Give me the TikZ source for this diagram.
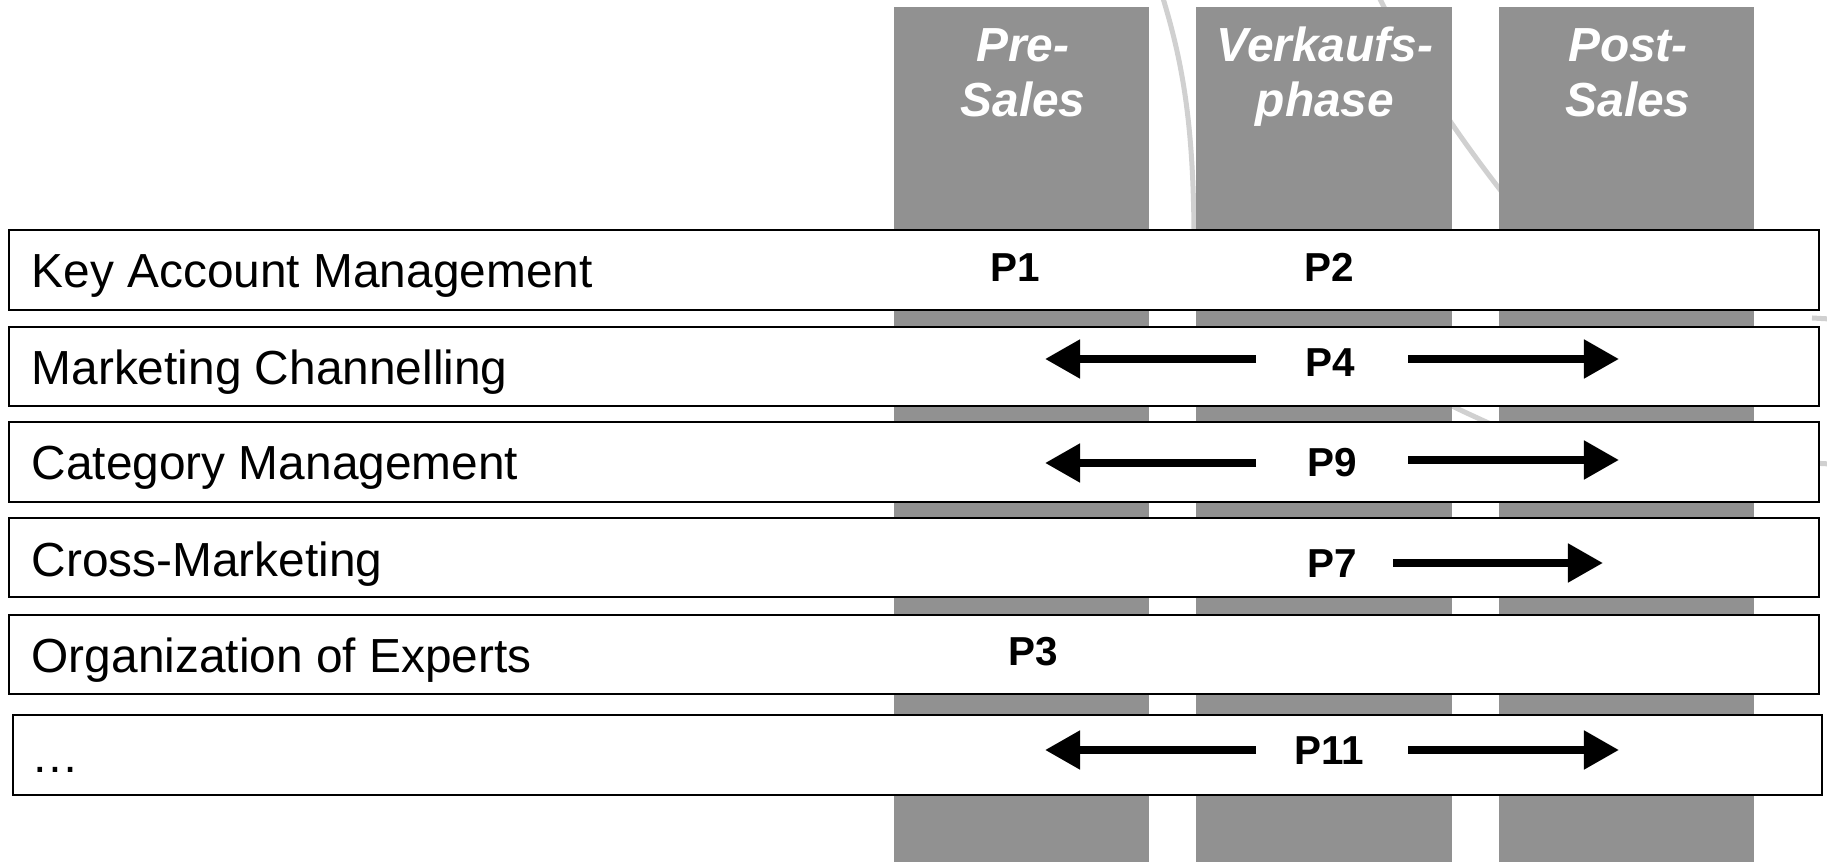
\documentclass[tikz,border=0pt]{standalone}
\usepackage{fontspec}
\setmainfont{Liberation Sans}
\usetikzlibrary{arrows.meta}
\definecolor{colgray}{RGB}{145,145,145}
\definecolor{arcgray}{RGB}{208,208,208}
\begin{document}
\begin{tikzpicture}[x=0.01cm,y=-0.01cm,
  colbox/.style={fill=colgray},
  rowbox/.style={draw=black,fill=white,line width=0.6pt},
  rowtext/.style={anchor=base west,inner sep=0pt,font=\fontsize{13.6pt}{16pt}\selectfont},
  headtext/.style={anchor=base,inner sep=0pt,text=white,font=\fontsize{13.6pt}{16pt}\selectfont\bfseries\itshape},
  plabel/.style={anchor=base,inner sep=0pt,font=\fontsize{11.5pt}{14pt}\selectfont\bfseries},
  arr/.style={line width=0.08cm,-{Triangle[length=0.35cm,width=0.37cm]}},
  bgarc/.style={draw=arcgray,line width=0.05cm}
]
\path[use as bounding box] (0,0) rectangle (1827,862);
\clip (0,0) rectangle (1827,862);

% background light arcs
\draw[bgarc] (1162,-5) .. controls (1182,60) and (1193,120) .. (1194,230);
\draw[bgarc] (1378,-5) .. controls (1410,60) and (1440,115) .. (1520,215);
\draw[bgarc] (1440,400) .. controls (1460,410) .. (1495,426);
\draw[bgarc] (1812,318) -- (1830,319);
\draw[bgarc] (1812,463) -- (1830,464);

% phase columns
\fill[colbox] (894,7) rectangle (1149,862);
\fill[colbox] (1196,7) rectangle (1452,862);
\fill[colbox] (1499,7) rectangle (1754,862);

\node[headtext] (h1a) at (1023,62) {Pre-};
\node[headtext] (h1b) at (1023,117) {Sales};
\node[headtext] (h2a) at (1325,62) {Verkaufs-};
\node[headtext] (h2b) at (1325,117) {phase};
\node[headtext] (h3a) at (1628,62) {Post-};
\node[headtext] (h3b) at (1628,117) {Sales};

% rows
\draw[rowbox] (9,230) rectangle (1819,310);
\draw[rowbox] (9,327) rectangle (1819,406);
\draw[rowbox] (9,422) rectangle (1819,502);
\draw[rowbox] (9,518) rectangle (1819,597);
\draw[rowbox] (9,615) rectangle (1819,694);
\draw[rowbox] (13,715) rectangle (1822,795);

\node[rowtext] (r1) at (31,288) {Key Account Management};
\node[rowtext] (r2) at (31,385) {Marketing Channelling};
\node[rowtext] (r3) at (31,480) {Category Management};
\node[rowtext] (r4) at (31,577) {Cross-Marketing};
\node[rowtext] (r5) at (31,673) {Organization of Experts};
\node[rowtext] (r6) at (31,773) {…};

% P labels
\node[plabel] (p1) at (1015,282) {P1};
\node[plabel] (p2) at (1329,282) {P2};
\node[plabel] (p4) at (1330,377) {P4};
\node[plabel] (p9) at (1332,477) {P9};
\node[plabel] (p7) at (1332,578) {P7};
\node[plabel] (p3) at (1033,666) {P3};
\node[plabel] (p11) at (1329,765) {P11};

% arrow end points
\coordinate (a4ls) at (1256,359); \coordinate (a4le) at (1045,359);
\coordinate (a4rs) at (1408,359); \coordinate (a4re) at (1619,359);
\coordinate (a9ls) at (1256,463); \coordinate (a9le) at (1045,463);
\coordinate (a9rs) at (1408,460); \coordinate (a9re) at (1619,460);
\coordinate (a7rs) at (1393,563); \coordinate (a7re) at (1603,563);
\coordinate (a11ls) at (1256,750); \coordinate (a11le) at (1045,750);
\coordinate (a11rs) at (1408,750); \coordinate (a11re) at (1619,750);

\draw[arr] (a4ls) -- (a4le);
\draw[arr] (a4rs) -- (a4re);
\draw[arr] (a9ls) -- (a9le);
\draw[arr] (a9rs) -- (a9re);
\draw[arr] (a7rs) -- (a7re);
\draw[arr] (a11ls) -- (a11le);
\draw[arr] (a11rs) -- (a11re);
\end{tikzpicture}
\end{document}
